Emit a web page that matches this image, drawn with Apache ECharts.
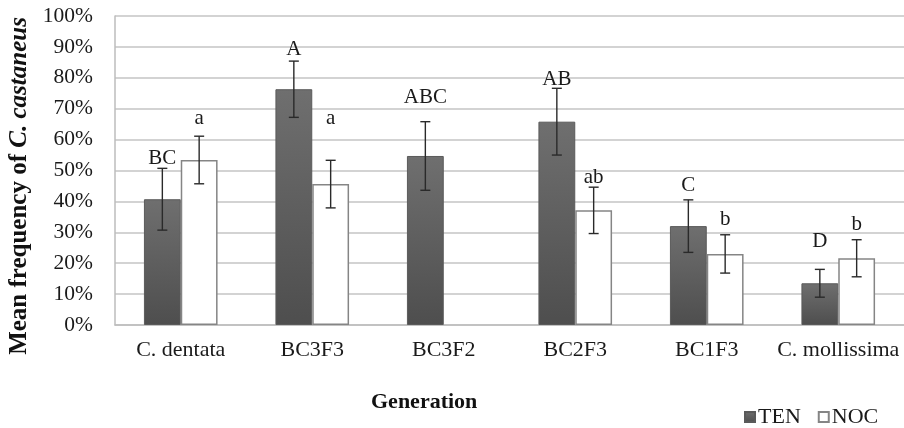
<!DOCTYPE html>
<html>
<head>
<meta charset="utf-8">
<script src="https://cdn.jsdelivr.net/npm/echarts@6/dist/echarts.min.js"></script>
<style>html,body{margin:0;padding:0;background:#fff}#c{width:904px;height:428px}</style>
</head>
<body>
<div id="c"></div>
<script>
const categories = ['C. dentata', 'BC3F3', 'BC3F2', 'BC2F3', 'BC1F3', 'C. mollissima'];
const tenMean = [40.7, 76.3, 54.7, 65.8, 32.0, 13.5];
const tenErr = [10.0, 9.1, 11.1, 10.8, 8.5, 4.5];
const nocMean = [53.4, 45.6, null, 37.1, 23.0, 21.6];
const nocErr = [7.7, 7.7, null, 7.5, 6.2, 6.0];
const tenLetters = ['BC', 'A', 'ABC', 'AB', 'C', 'D'];
const tenLetterPos = [54.0, 89.3, 73.5, 79.6, 45.3, 26.9];
const nocLetters = ['a', 'a', '', 'ab', 'b', 'b'];
const nocLetterPos = [66.7, 66.7, null, 47.9, 34.3, 32.4];
const yTicks = [0, 10, 20, 30, 40, 50, 60, 70, 80, 90, 100];

const SERIF = '"Liberation Serif", "Times New Roman", serif';
const BAR_FRAC = 0.28;

function errData(means, errs, letters, pos) {
  return categories.map((c, i) => means[i] == null ? [i, NaN, NaN, '', NaN] : [i, means[i], errs[i], letters[i], pos[i]]);
}

function makeRender(side) {
  return function (params, api) {
    const cat = api.value(0), mean = api.value(1), err = api.value(2);
    if (isNaN(mean)) return null;
    const band = api.size([1, 0])[0];
    const off = side * band * BAR_FRAC / 2;
    const top = api.coord([cat, mean + err]);
    const bot = api.coord([cat, mean - err]);
    const lab = api.coord([cat, api.value(4)]);
    const x = top[0] + off;
    const cap = 5;
    const ls = { stroke: '#2a2a2a', lineWidth: 1.4 };
    return {
      type: 'group',
      children: [
        { type: 'line', shape: { x1: x, y1: top[1], x2: x, y2: bot[1] }, style: ls },
        { type: 'line', shape: { x1: x - cap, y1: top[1], x2: x + cap, y2: top[1] }, style: ls },
        { type: 'line', shape: { x1: x - cap, y1: bot[1], x2: x + cap, y2: bot[1] }, style: ls },
        { type: 'text', style: { text: api.value(3), x: x, y: lab[1], align: 'center', verticalAlign: 'middle', fontSize: 21, fontFamily: SERIF, fill: '#1a1a1a' } }
      ]
    };
  };
}

const chart = echarts.init(document.getElementById('c'));
chart.setOption({
  animation: false,
  backgroundColor: '#fff',
  grid: { left: 115, right: 0, top: 16, bottom: 103, containLabel: false },
  xAxis: {
    type: 'category',
    data: categories,
    axisTick: { show: false },
    axisLine: { show: true, lineStyle: { color: '#bdbdbd', width: 1.5 } },
    axisLabel: { interval: 0, fontSize: 22, fontFamily: SERIF, color: '#1a1a1a', margin: 14 }
  },
  yAxis: {
    type: 'value',
    min: 0, max: 100, interval: 10,
    axisLine: { show: true, lineStyle: { color: '#bdbdbd', width: 1.5 } },
    axisTick: { show: false },
    splitLine: { lineStyle: { color: '#c4c4c4', width: 1.5 } },
    axisLabel: { fontSize: 21.5, fontFamily: SERIF, color: '#1a1a1a', margin: 22, formatter: v => yTicks.includes(v) ? v + '%' : '' }
  },
  legend: {
    left: 739, top: 401,
    itemWidth: 10, itemHeight: 10, itemGap: 17,
    icon: 'rect',
    textStyle: { fontSize: 22, fontFamily: SERIF, color: '#1a1a1a', padding: [0, 0, 0, -2] },
    data: ['TEN', 'NOC']
  },
  graphic: [
    { type: 'text', left: 371, top: 391, style: { text: 'Generation', fontSize: 22, fontWeight: 'bold', fontFamily: SERIF, fill: '#111' } },
    { type: 'text', x: 20, y: 186, rotation: Math.PI / 2, style: {
        text: '{b|Mean frequency of }{bi|C. castaneus}', align: 'center', verticalAlign: 'middle',
        rich: {
          b: { fontSize: 25, fontWeight: 'bold', fontFamily: SERIF, fill: '#111' },
          bi: { fontSize: 25, fontWeight: 'bold', fontStyle: 'italic', fontFamily: SERIF, fill: '#111' }
        } } }
  ],
  series: [
    {
      name: 'TEN', type: 'bar', data: tenMean, barWidth: (BAR_FRAC * 100) + '%', barGap: '0%',
      itemStyle: {
        color: new echarts.graphic.LinearGradient(0, 0, 0, 1, [{ offset: 0, color: '#6f6f6f' }, { offset: 1, color: '#4e4e4e' }]),
        borderColor: '#5a5a5a', borderWidth: 1
      }
    },
    {
      name: 'NOC', type: 'bar', data: nocMean, barWidth: (BAR_FRAC * 100) + '%', barGap: '0%',
      itemStyle: { color: '#ffffff', borderColor: '#858585', borderWidth: 1.5 }
    },
    {
      type: 'custom', name: 'tenErr', renderItem: makeRender(-1), data: errData(tenMean, tenErr, tenLetters, tenLetterPos),
      encode: { x: 0, y: 1 }, z: 5, silent: true
    },
    {
      type: 'custom', name: 'nocErr', renderItem: makeRender(1), data: errData(nocMean, nocErr, nocLetters, nocLetterPos),
      encode: { x: 0, y: 1 }, z: 5, silent: true
    }
  ]
});
</script>
</body>
</html>
